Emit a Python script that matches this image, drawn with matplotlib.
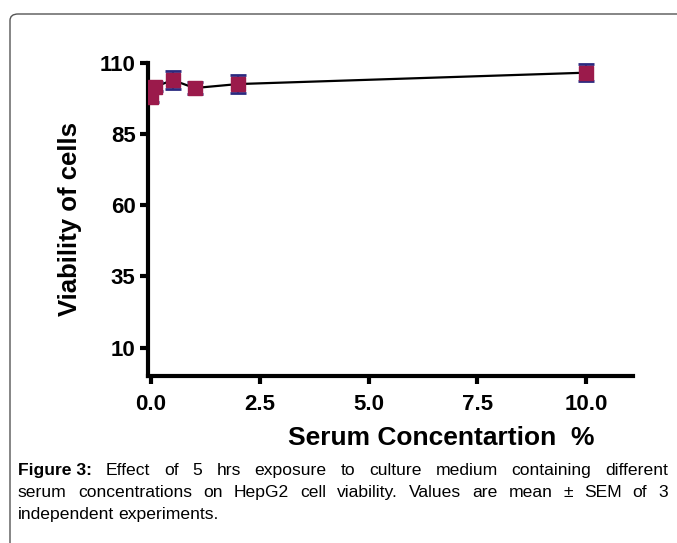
import matplotlib
matplotlib.use("Agg")
import matplotlib.pyplot as plt
from matplotlib.patches import FancyBboxPatch

# serum concentration (%) vs. viability, mean and SEM
conc = [0.0, 0.1, 0.5, 1.0, 2.0, 10.0]
viability = [97.9, 101.7, 104.0, 101.2, 102.6, 106.6]
sem = [1.5, 1.5, 3.1, 2.0, 3.1, 3.1]

x_ticks = [0.0, 2.5, 5.0, 7.5, 10.0]
y_ticks = [10, 35, 60, 85, 110]

caption = [
    ("Figure 3:", "Effect of 5 hrs exposure to culture medium containing different", True),
    ("", "serum concentrations on HepG2 cell viability. Values are mean \u00b1 SEM of 3", True),
    ("", "independent experiments.", False),
]

plt.rcParams["font.family"] = ["Liberation Sans", "DejaVu Sans"]

W, H = 677, 543
fig = plt.figure(figsize=(W / 100, H / 100), dpi=100)

# rounded frame around figure + caption
frame = FancyBboxPatch((10 / W, -0.2), 1.2, 1 - 14 / H + 0.2,
                       boxstyle="round,pad=0,rounding_size=0.012",
                       transform=fig.transFigure, fill=False,
                       edgecolor="#555555", lw=1.0)
fig.patches.append(frame)

ax = fig.add_axes([148 / W, 1 - 376 / H, (633 - 148) / W, (376 - 63) / H])
ax.plot(conc, viability, color="black", lw=1.6, zorder=2)
ax.errorbar(conc, viability, yerr=sem, fmt="none", ecolor="#2a2a80",
            elinewidth=1.5, capsize=5.5, capthick=2, zorder=3)
ax.plot(conc, viability, "s", ms=10.5, color="#9b1a4b", mec="#9b1a4b",
        zorder=4)

ax.set_xlim(-0.07, 11.08)
ax.set_ylim(0, 110)
ax.set_xticks(x_ticks)
ax.set_xticklabels([f"{v:.1f}" for v in x_ticks])
ax.set_yticks(y_ticks)
for s in ("top", "right"):
    ax.spines[s].set_visible(False)
for s in ("left", "bottom"):
    ax.spines[s].set_linewidth(3)
ax.tick_params(width=3, length=6, labelsize=16)
ax.tick_params(axis="x", pad=7)
ax.tick_params(axis="y", pad=3)
for lab in ax.get_xticklabels() + ax.get_yticklabels():
    lab.set_fontweight("bold")

fig.text(70 / W, 1 - 219 / H, "Viability of cells", fontsize=18.5,
         fontweight="bold", rotation=90, ha="center", va="center")
fig.text(441 / W, 1 - 438 / H, "Serum Concentartion  %", fontsize=19,
         fontweight="bold", ha="center", va="center")

# justified caption lines
fig.canvas.draw()
renderer = fig.canvas.get_renderer()
left, right = 18, 668
base_y = [475, 497, 519]
fs = 12.6
for (bold_part, rest, justify), yb in zip(caption, base_y):
    words = []
    if bold_part:
        words.append((bold_part, "bold"))
    words += [(w, "normal") for w in rest.split(" ")]
    texts = []
    for w, weight in words:
        t = fig.text(0, 1 - yb / H, w, fontsize=fs, fontweight=weight,
                     va="baseline", ha="left")
        texts.append(t)
    widths = [t.get_window_extent(renderer).width for t in texts]
    if justify:
        gap = (right - left - sum(widths)) / (len(texts) - 1)
    else:
        gap = 3.6
    x = left
    for t, wd in zip(texts, widths):
        t.set_x(x / W)
        x += wd + gap

fig.savefig("out.png", dpi=100)
